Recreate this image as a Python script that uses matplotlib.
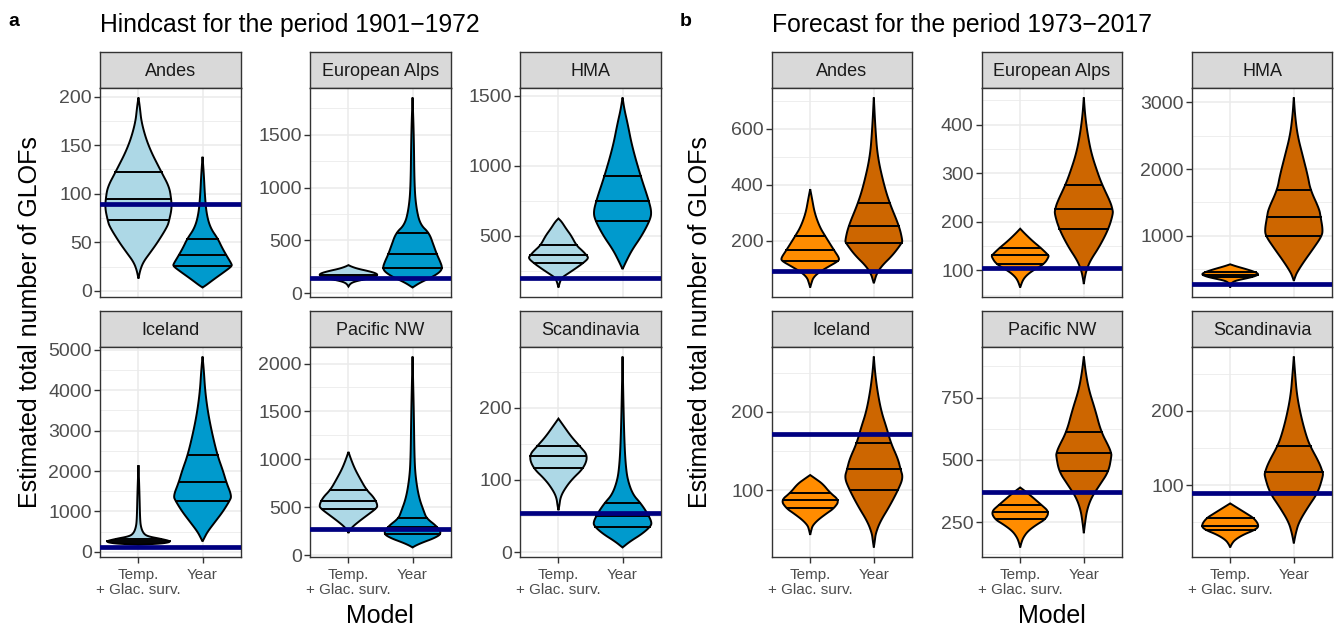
import numpy as np
import matplotlib
matplotlib.use("Agg")
import matplotlib.pyplot as plt

plt.rcParams['font.family'] = ['Liberation Sans', 'DejaVu Sans']

# ---- data ----
regions = ["Andes", "European Alps", "HMA", "Iceland", "Pacific NW", "Scandinavia"]
models = ["Temp.\n+ Glac. surv.", "Year"]
titles = ["Hindcast for the period 1901\u22121972", "Forecast for the period 1973\u22122017"]

# observed totals (navy lines)
hind_obs = [89.5, 140, 197, 107, 271, 54]
fore_obs = [94, 106, 274, 172, 373, 89.7]

# major tick step per panel
hind_step = [50, 500, 500, 1000, 500, 100]
fore_step = [200, 100, 1000, 100, 250, 100]

# quantiles (25, 50, 75 %) per violin
hind_q_temp = [[72.5, 95, 122], [125, 150, 175], [303, 360, 431], [215, 255, 320], [480, 567, 682], [117, 133, 147]]
hind_q_year = [[25.5, 36.7, 53.4], [241, 366, 569], [604, 751, 929], [1258, 1727, 2401], [219, 296, 383], [35, 49.5, 68]]
fore_q_temp = [[128, 167, 216], [113.6, 132, 147], [380, 415, 450], [77, 87, 97], [263, 293, 321], [40, 45.3, 55]]
fore_q_year = [[193, 252, 334], [186, 226, 276], [995, 1289, 1692], [101, 127, 160], [454, 527, 614], [90, 117, 152]]

# violin outlines: value, half width (category units)
hind_andes_temp_y = [199, 190, 172, 148, 122, 107, 95, 85, 72.5, 66, 50, 39, 30, 22, 12.6]
hind_andes_temp_w = [0, 0.02, 0.05, 0.16, 0.36, 0.48, 0.51, 0.52, 0.48, 0.45, 0.3, 0.18, 0.08, 0.03, 0]
hind_andes_year_y = [138, 120, 100, 80, 65, 53.4, 45, 36.7, 28, 25.5, 20, 12, 6, 3.4]
hind_andes_year_w = [0, 0.02, 0.035, 0.06, 0.12, 0.24, 0.3, 0.37, 0.45, 0.46, 0.35, 0.18, 0.06, 0]
hind_alps_temp_y = [265, 250, 230, 210, 190, 172, 150, 130, 110, 90, 62]
hind_alps_temp_w = [0, 0.05, 0.15, 0.3, 0.42, 0.46, 0.4, 0.25, 0.1, 0.03, 0]
hind_alps_year_y = [1853, 1500, 1000, 800, 650, 569, 450, 366, 300, 241, 200, 150, 100, 53]
hind_alps_year_w = [0, 0.02, 0.03, 0.06, 0.12, 0.26, 0.33, 0.38, 0.43, 0.465, 0.43, 0.3, 0.12, 0]
hind_hma_temp_y = [623, 600, 550, 500, 431, 390, 360, 339, 303, 270, 230, 200, 165, 130]
hind_hma_temp_w = [0, 0.05, 0.12, 0.2, 0.28, 0.38, 0.44, 0.47, 0.38, 0.28, 0.15, 0.05, 0.02, 0]
hind_hma_year_y = [1488, 1400, 1300, 1137, 929, 751, 664, 604, 500, 400, 320, 261]
hind_hma_year_w = [0, 0.03, 0.08, 0.15, 0.28, 0.41, 0.455, 0.42, 0.3, 0.15, 0.06, 0]
hind_ice_temp_y = [2146, 1500, 800, 600, 450, 380, 320, 255, 210, 190, 173]
hind_ice_temp_w = [0, 0.015, 0.025, 0.04, 0.08, 0.15, 0.35, 0.52, 0.4, 0.2, 0]
hind_ice_year_y = [4836, 4500, 4000, 3500, 3000, 2401, 2000, 1727, 1382, 1258, 1000, 750, 500, 350, 255]
hind_ice_year_w = [0, 0.02, 0.04, 0.08, 0.14, 0.23, 0.32, 0.37, 0.455, 0.42, 0.32, 0.2, 0.08, 0.03, 0]
hind_pnw_temp_y = [1078, 1000, 900, 800, 682, 600, 515, 480, 420, 360, 300, 260, 230]
hind_pnw_temp_w = [0, 0.04, 0.1, 0.18, 0.28, 0.4, 0.46, 0.42, 0.3, 0.18, 0.07, 0.02, 0]
hind_pnw_year_y = [2073, 1500, 1000, 800, 600, 450, 383, 300, 226, 180, 130, 100, 80]
hind_pnw_year_w = [0, 0.02, 0.03, 0.05, 0.1, 0.18, 0.22, 0.38, 0.455, 0.35, 0.15, 0.05, 0]
hind_sca_temp_y = [185, 175, 160, 147, 134, 117, 100, 85, 75, 65, 58]
hind_sca_temp_w = [0, 0.08, 0.2, 0.33, 0.46, 0.4, 0.2, 0.08, 0.03, 0.015, 0]
hind_sca_year_y = [271, 200, 150, 120, 100, 80, 68, 55, 41, 35, 25, 15, 6.5]
hind_sca_year_w = [0, 0.015, 0.03, 0.05, 0.08, 0.16, 0.28, 0.38, 0.46, 0.43, 0.3, 0.12, 0]

fore_andes_temp_y = [385, 350, 300, 250, 216, 167, 138, 128, 110, 90, 70, 50, 34]
fore_andes_temp_w = [0, 0.03, 0.07, 0.15, 0.24, 0.375, 0.46, 0.44, 0.3, 0.15, 0.05, 0.02, 0]
fore_andes_year_y = [712, 600, 500, 400, 334, 252, 202, 193, 150, 110, 80, 60, 49]
fore_andes_year_w = [0, 0.025, 0.06, 0.16, 0.25, 0.4, 0.45, 0.44, 0.3, 0.12, 0.04, 0.015, 0]
fore_alps_temp_y = [186, 175, 160, 147, 132, 128.5, 113.6, 100, 90, 80, 65]
fore_alps_temp_w = [0, 0.08, 0.2, 0.32, 0.44, 0.45, 0.38, 0.2, 0.1, 0.04, 0]
fore_alps_year_y = [456, 420, 380, 340, 300, 276, 240, 226, 217, 186, 150, 120, 100, 85, 72]
fore_alps_year_w = [0, 0.02, 0.06, 0.12, 0.22, 0.29, 0.42, 0.45, 0.46, 0.39, 0.25, 0.1, 0.04, 0.015, 0]
fore_hma_temp_y = [572, 540, 500, 460, 423, 390, 360, 330, 300, 260, 224]
fore_hma_temp_w = [0, 0.1, 0.25, 0.38, 0.455, 0.38, 0.25, 0.1, 0.03, 0.01, 0]
fore_hma_year_y = [3075, 2800, 2500, 2200, 1900, 1692, 1400, 1289, 1095, 995, 800, 600, 450, 380, 323]
fore_hma_year_w = [0, 0.02, 0.06, 0.14, 0.22, 0.26, 0.4, 0.42, 0.455, 0.44, 0.3, 0.15, 0.05, 0.02, 0]
fore_ice_temp_y = [119.5, 115, 108, 97, 87, 77, 70, 62, 55, 50, 43]
fore_ice_temp_w = [0, 0.08, 0.2, 0.31, 0.46, 0.375, 0.25, 0.12, 0.04, 0.02, 0]
fore_ice_year_y = [270.8, 250, 225, 200, 180, 160, 140, 127, 116, 101, 80, 60, 45, 35, 27]
fore_ice_year_w = [0, 0.02, 0.06, 0.12, 0.2, 0.27, 0.38, 0.42, 0.46, 0.385, 0.25, 0.1, 0.03, 0.015, 0]
fore_pnw_temp_y = [390, 375, 350, 321, 293, 263, 240, 215, 190, 170, 150]
fore_pnw_temp_w = [0, 0.08, 0.2, 0.33, 0.455, 0.4, 0.25, 0.12, 0.05, 0.02, 0]
fore_pnw_year_y = [914, 850, 780, 700, 614, 550, 527, 517, 454, 400, 350, 300, 250, 207]
fore_pnw_year_w = [0, 0.03, 0.08, 0.18, 0.27, 0.4, 0.43, 0.435, 0.39, 0.25, 0.12, 0.05, 0.02, 0]
fore_sca_temp_y = [75.3, 70, 62, 55, 45.3, 40, 33, 26, 20, 16]
fore_sca_temp_w = [0, 0.1, 0.25, 0.38, 0.455, 0.4, 0.2, 0.07, 0.02, 0]
fore_sca_year_y = [273, 250, 220, 190, 165, 152, 130, 117, 112.6, 90, 70, 50, 35, 21.5]
fore_sca_year_w = [0, 0.02, 0.05, 0.12, 0.2, 0.26, 0.4, 0.455, 0.46, 0.38, 0.22, 0.08, 0.03, 0]

hind_temp = [(hind_andes_temp_y, hind_andes_temp_w), (hind_alps_temp_y, hind_alps_temp_w),
             (hind_hma_temp_y, hind_hma_temp_w), (hind_ice_temp_y, hind_ice_temp_w),
             (hind_pnw_temp_y, hind_pnw_temp_w), (hind_sca_temp_y, hind_sca_temp_w)]
hind_year = [(hind_andes_year_y, hind_andes_year_w), (hind_alps_year_y, hind_alps_year_w),
             (hind_hma_year_y, hind_hma_year_w), (hind_ice_year_y, hind_ice_year_w),
             (hind_pnw_year_y, hind_pnw_year_w), (hind_sca_year_y, hind_sca_year_w)]
fore_temp = [(fore_andes_temp_y, fore_andes_temp_w), (fore_alps_temp_y, fore_alps_temp_w),
             (fore_hma_temp_y, fore_hma_temp_w), (fore_ice_temp_y, fore_ice_temp_w),
             (fore_pnw_temp_y, fore_pnw_temp_w), (fore_sca_temp_y, fore_sca_temp_w)]
fore_year = [(fore_andes_year_y, fore_andes_year_w), (fore_alps_year_y, fore_alps_year_w),
             (fore_hma_year_y, fore_hma_year_w), (fore_ice_year_y, fore_ice_year_w),
             (fore_pnw_year_y, fore_pnw_year_w), (fore_sca_year_y, fore_sca_year_w)]

W, H = 1335, 627
fig = plt.figure(figsize=(W / 100, H / 100), dpi=100)


def px_axes(x0, y0, x1, y1):
    return fig.add_axes([x0 / W, 1 - y1 / H, (x1 - x0) / W, (y1 - y0) / H])


def smooth(y, w, n=3):
    # chaikin corner cutting, ends kept, just to round the outline
    for _ in range(n):
        ny, nw = [y[0]], [w[0]]
        for k in range(len(y) - 1):
            ny += [0.75 * y[k] + 0.25 * y[k + 1], 0.25 * y[k] + 0.75 * y[k + 1]]
            nw += [0.75 * w[k] + 0.25 * w[k + 1], 0.25 * w[k] + 0.75 * w[k + 1]]
        ny.append(y[-1])
        nw.append(w[-1])
        y, w = ny, nw
    return np.array(y), np.array(w)


def violin(ax, pos, prof, quant, fill):
    y, w = smooth(list(prof[0]), list(prof[1]))
    xs = np.concatenate([pos - w, (pos + w)[::-1]])
    ys = np.concatenate([y, y[::-1]])
    ax.fill(xs, ys, facecolor=fill, edgecolor='black', linewidth=1.4, zorder=3)
    for q in quant:
        hw = np.interp(q, y[::-1], w[::-1])
        ax.plot([pos - hw, pos + hw], [q, q], color='black', lw=1.4, zorder=4)


def panel(x0, x1, y0, y1, name, temp, year, qt, qy, obs, step, colors, bottom):
    # strip
    st = px_axes(x0, y0 - 36, x1, y0)
    st.set_facecolor('#D9D9D9')
    st.set_xticks([])
    st.set_yticks([])
    for s in st.spines.values():
        s.set_color('#333333')
        s.set_linewidth(1.0)
    st.text(0.5, 0.47, name, ha='center', va='center', fontsize=13, color='#1A1A1A',
            transform=st.transAxes)

    ax = px_axes(x0, y0, x1, y1)
    lo = min(min(temp[0]), min(year[0]), obs)
    hi = max(max(temp[0]), max(year[0]), obs)
    pad = 0.05 * (hi - lo)
    ax.set_ylim(lo - pad, hi + pad)
    ax.set_xlim(0.4, 2.6)
    major = np.arange(0, hi + pad + step, step)
    major = major[(major >= lo - pad) & (major <= hi + pad)]
    minor = np.arange(step / 2, hi + pad, step)
    minor = minor[(minor >= lo - pad)]
    ax.set_yticks(major)
    ax.set_yticklabels([str(int(v)) for v in major])
    ax.set_yticks(minor, minor=True)
    ax.set_xticks([1, 2])
    ax.grid(True, which='major', color='#EBEBEB', lw=1.1, zorder=0)
    ax.grid(True, which='minor', axis='y', color='#EBEBEB', lw=0.6, zorder=0)
    ax.set_axisbelow(True)
    ax.tick_params(axis='y', which='minor', length=0)
    ax.tick_params(axis='both', which='major', length=4, width=1.0, color='#333333',
                   labelcolor='#4D4D4D', labelsize=14)
    ax.tick_params(axis='y', pad=2)
    if bottom:
        ax.set_xticklabels(models, fontsize=11, linespacing=1.1)
        ax.tick_params(axis='x', pad=4)
    else:
        ax.tick_params(axis='x', length=0, labelbottom=False)
    for s in ax.spines.values():
        s.set_color('#333333')
        s.set_linewidth(1.0)

    violin(ax, 1, temp, qt, colors[0])
    violin(ax, 2, year, qy, colors[1])
    ax.axhline(obs, color='#000080', lw=3.4, zorder=5)


col_x = [[(100, 241), (310, 451), (520, 661)],
         [(772, 912), (982, 1122), (1192, 1332)]]
row_y = [(88, 297), (347, 557)]
groups = [(hind_temp, hind_year, hind_q_temp, hind_q_year, hind_obs, hind_step, ('#ADD8E6', '#009ACD')),
          (fore_temp, fore_year, fore_q_temp, fore_q_year, fore_obs, fore_step, ('#FF8C00', '#CD6600'))]

for g, (tp, yr, qt, qy, obs, step, cols) in enumerate(groups):
    for i in range(6):
        r, c = divmod(i, 3)
        x0, x1 = col_x[g][c]
        y0, y1 = row_y[r]
        panel(x0, x1, y0, y1, regions[i], tp[i], yr[i], qt[i], qy[i], obs[i], step[i], cols, r == 1)

# titles and labels
fig.text(8 / W, 1 - 22 / H, 'a', fontsize=14, fontweight='bold', va='center')
fig.text(680 / W, 1 - 22 / H, 'b', fontsize=14, fontweight='bold', va='center')
fig.text(100 / W, 1 - 25 / H, titles[0], fontsize=17.8, va='center')
fig.text(772 / W, 1 - 25 / H, titles[1], fontsize=17.8, va='center')
for xl, xm in [(30, 380), (700, 1052)]:
    fig.text(xl / W, 1 - 322 / H, 'Estimated total number of GLOFs', rotation=90,
             fontsize=18, ha='center', va='center')
    fig.text(xm / W, 1 - 616 / H, 'Model', fontsize=18, ha='center', va='center')

fig.savefig('out.png', dpi=100)
